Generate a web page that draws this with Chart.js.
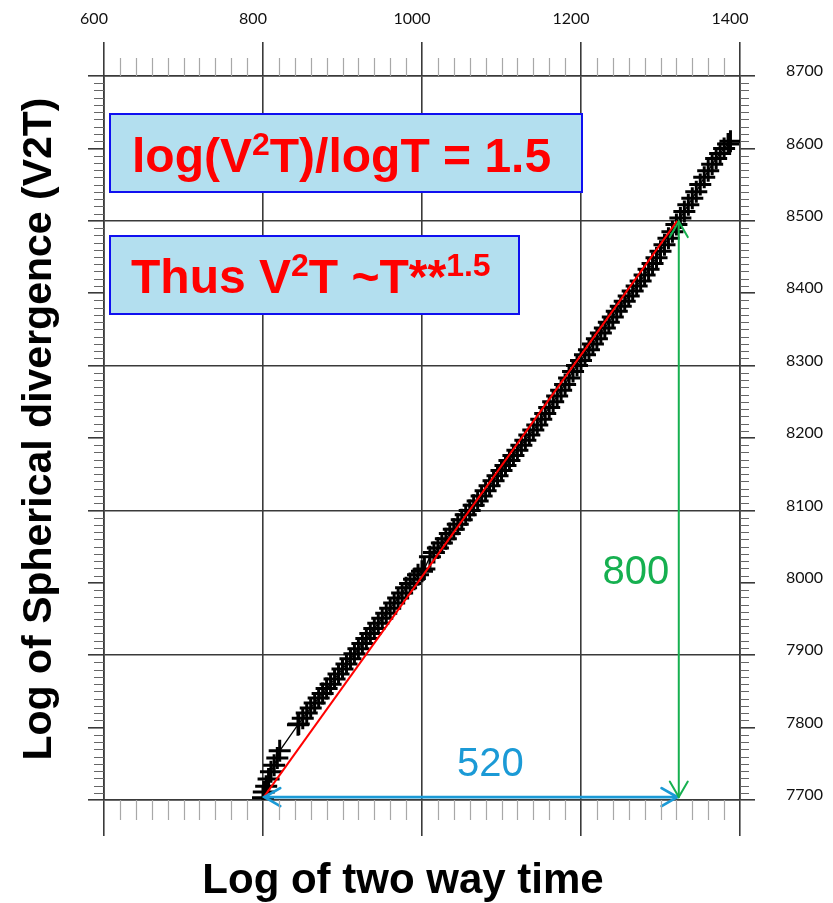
<!DOCTYPE html>
<html>
<head>
<meta charset="utf-8">
<script src="https://cdn.jsdelivr.net/npm/chart.js@4/dist/chart.umd.min.js"></script>
<style>
  html, body { margin: 0; padding: 0; background: #ffffff; }
  canvas { display: block; }
</style>
</head>
<body>
<canvas id="c" width="833" height="903"></canvas>
<script>
// Log of two-way time (x) against log of spherical divergence V2T (y)
const twoWayTime = [
  800, 801, 804, 807, 810, 814, 818, 821, 844,
  845, 850, 855, 860, 865, 870, 875, 880, 885, 890, 895, 900, 905, 910, 915, 920,
  925, 930, 935, 940, 945, 950, 955, 960, 965, 970, 975, 980, 985, 990, 995, 1000, 1003,
  1010, 1015, 1020, 1025, 1030, 1035, 1040, 1045, 1050, 1055, 1060, 1065, 1070, 1075,
  1080, 1085, 1090, 1095, 1100, 1105, 1110, 1115, 1120, 1125, 1130, 1135, 1140, 1145,
  1150, 1155, 1160, 1165, 1170, 1175, 1180, 1185, 1190, 1195, 1200, 1205, 1210, 1215,
  1220, 1225, 1230, 1235, 1240, 1245, 1250, 1255, 1260, 1265, 1270, 1275, 1280, 1285,
  1290, 1295, 1300, 1305, 1310, 1315, 1320, 1325, 1330, 1335, 1340, 1345, 1350, 1355,
  1360, 1365, 1370, 1375, 1380, 1385, 1388
];
const sphericalDiv = [
  7703, 7711, 7719, 7729, 7739, 7748, 7758, 7768, 7804,
  7805, 7813, 7820, 7827, 7834, 7841, 7847, 7854, 7860, 7867, 7874, 7881, 7888, 7895, 7902, 7909,
  7916, 7923, 7930, 7937, 7944, 7951, 7958, 7965, 7972, 7979, 7986, 7993, 7999, 8005, 8011, 8016, 8019,
  8036, 8042, 8048, 8055, 8061, 8068, 8074, 8081, 8087, 8094, 8100, 8107, 8113, 8120,
  8127, 8134, 8141, 8148, 8155, 8162, 8169, 8176, 8183, 8190, 8197, 8204, 8211, 8218,
  8226, 8234, 8242, 8250, 8258, 8266, 8274, 8283, 8292, 8300, 8307, 8315, 8322, 8330,
  8337, 8345, 8352, 8360, 8367, 8375, 8382, 8389, 8396, 8403, 8410, 8417, 8425, 8433,
  8441, 8449, 8458, 8467, 8476, 8485, 8495, 8504, 8513, 8522, 8531, 8540, 8550, 8560,
  8569, 8578, 8586, 8593, 8600, 8606, 8610
];

// straight-line fit (slope 800/520 ~ 1.5)
const fitTime = [801, 1321];
const fitDiv = [7704, 8500];

// run / rise brackets
const runTime = [802, 1321];
const runDiv = 7704;
const riseTime = 1323;
const riseDiv = [7704, 8499];
const runLabel = '520';
const riseLabel = '800';
const runLabelAt = [1086, 7748];
const riseLabelAt = [1269, 8013];

// axis tick values
const timeTicks = [600, 800, 1000, 1200, 1400];
const divTicks = [7700, 7800, 7900, 8000, 8100, 8200, 8300, 8400, 8500, 8600, 8700];

const curvePts = twoWayTime.map((t, i) => ({ x: t, y: sphericalDiv[i] }));
const fitPts = fitTime.map((t, i) => ({ x: t, y: fitDiv[i] }));

const AXIS = '#3a3a3a';
const tickFont = { family: 'Lato, "Liberation Sans", sans-serif', size: 16, weight: '400' };

function fixedHeight(h) { return s => { s.height = h; }; }
function fixedWidth(w) { return s => { s.width = w; }; }

// minor tick marks along all four frame edges
const minorTicks = {
  id: 'minorTicks',
  afterDraw(chart) {
    const { ctx, chartArea: a, scales } = chart;
    ctx.save();
    ctx.lineWidth = 1.2;
    ctx.strokeStyle = '#a8a8a8';
    for (let v = 620; v < 1400; v += 20) {
      if (v % 200 === 0) continue;
      const px = Math.round(scales.x.getPixelForValue(v)) + 0.5;
      ctx.beginPath();
      ctx.moveTo(px, a.top); ctx.lineTo(px, a.top - 18);
      ctx.moveTo(px, a.bottom); ctx.lineTo(px, a.bottom + 20);
      ctx.stroke();
    }
    ctx.strokeStyle = '#666';
    for (let v = 7710; v < 8700; v += 10) {
      if (v % 100 === 0) continue;
      const py = Math.round(scales.y.getPixelForValue(v)) + 0.5;
      ctx.beginPath();
      ctx.moveTo(a.left, py); ctx.lineTo(a.left - 10, py);
      ctx.moveTo(a.right, py); ctx.lineTo(a.right + 9, py);
      ctx.stroke();
    }
    ctx.restore();
  }
};

function arrowHead(ctx, tx, ty, ang) {
  const len = 18, spread = Math.PI / 6;
  ctx.beginPath();
  ctx.moveTo(tx + len * Math.cos(ang - spread), ty + len * Math.sin(ang - spread));
  ctx.lineTo(tx, ty);
  ctx.lineTo(tx + len * Math.cos(ang + spread), ty + len * Math.sin(ang + spread));
  ctx.stroke();
}

function richText(ctx, parts, x, y) {
  let cx = x;
  for (const p of parts) {
    ctx.font = p.sup ? 'bold 32px "Liberation Sans", Arial, sans-serif'
                     : 'bold 48px "Liberation Sans", Arial, sans-serif';
    ctx.fillText(p.t, cx, p.sup ? y - 17 : y);
    cx += ctx.measureText(p.t).width;
  }
}

// brackets, their labels, the two note boxes and the axis titles
const notes = {
  id: 'notes',
  afterDatasetsDraw(chart) {
    const { ctx, scales } = chart;
    const X = v => scales.x.getPixelForValue(v);
    const Y = v => scales.y.getPixelForValue(v);
    ctx.save();
    ctx.lineCap = 'round';

    // horizontal run bracket
    ctx.strokeStyle = '#1b9ad6';
    ctx.lineWidth = 2.8;
    const ry = Y(runDiv), rx0 = X(runTime[0]), rx1 = X(runTime[1]);
    ctx.beginPath(); ctx.moveTo(rx0, ry); ctx.lineTo(rx1, ry); ctx.stroke();
    arrowHead(ctx, rx0, ry, 0);
    arrowHead(ctx, rx1, ry, Math.PI);

    // vertical rise bracket
    ctx.strokeStyle = '#16b050';
    ctx.lineWidth = 2;
    const vx = X(riseTime), vy0 = Y(riseDiv[0]), vy1 = Y(riseDiv[1]);
    ctx.beginPath(); ctx.moveTo(vx, vy0); ctx.lineTo(vx, vy1); ctx.stroke();
    arrowHead(ctx, vx, vy0, -Math.PI / 2);
    arrowHead(ctx, vx, vy1, Math.PI / 2);

    ctx.textAlign = 'center';
    ctx.textBaseline = 'middle';
    ctx.font = '40px "Liberation Sans", Arial, sans-serif';
    ctx.fillStyle = '#1b9ad6';
    ctx.fillText(runLabel, X(runLabelAt[0]), Y(runLabelAt[1]));
    ctx.fillStyle = '#16b050';
    ctx.fillText(riseLabel, X(riseLabelAt[0]), Y(riseLabelAt[1]));

    // note boxes
    const boxes = [
      { x: 110, y: 114, w: 472, h: 78, tx: 132, ty: 172,
        parts: [{ t: 'log(V' }, { t: '2', sup: true }, { t: 'T)/logT = 1.5' }] },
      { x: 110, y: 236, w: 409, h: 78, tx: 131, ty: 293,
        parts: [{ t: 'Thus V' }, { t: '2', sup: true }, { t: 'T ~T**' }, { t: '1.5', sup: true }] }
    ];
    ctx.textAlign = 'left';
    ctx.textBaseline = 'alphabetic';
    for (const b of boxes) {
      ctx.fillStyle = '#b3dfef';
      ctx.fillRect(b.x, b.y, b.w, b.h);
      ctx.strokeStyle = '#1010f0';
      ctx.lineWidth = 2;
      ctx.strokeRect(b.x, b.y, b.w, b.h);
      ctx.fillStyle = '#ff0000';
      richText(ctx, b.parts, b.tx, b.ty);
    }

    // axis titles
    ctx.fillStyle = '#000';
    ctx.font = 'bold 42px "Liberation Sans", Arial, sans-serif';
    ctx.textAlign = 'center';
    ctx.fillText('Log of two way time', 403, 893);
    ctx.font = 'bold 41px "Liberation Sans", Arial, sans-serif';
    ctx.translate(51, 429);
    ctx.rotate(-Math.PI / 2);
    ctx.fillText('Log of Spherical divergence (V2T)', 0, 0);
    ctx.restore();
  }
};

new Chart(document.getElementById('c'), {
  type: 'line',
  data: {
    datasets: [
      {
        label: 'V2T',
        data: curvePts,
        order: 2,
        xAxisID: 'x', yAxisID: 'y',
        borderColor: '#000', borderWidth: 1.3,
        pointStyle: 'cross', pointRadius: 11, pointBorderWidth: 3,
        pointBorderColor: '#000', pointBackgroundColor: '#000',
        tension: 0, fill: false
      },
      {
        label: 'fit',
        data: fitPts,
        order: 1,
        xAxisID: 'x', yAxisID: 'y',
        borderColor: '#ff0000', borderWidth: 2,
        pointRadius: 0, tension: 0, fill: false
      }
    ]
  },
  options: {
    responsive: false,
    animation: false,
    events: [],
    layout: { padding: 0 },
    plugins: { legend: { display: false }, tooltip: { enabled: false } },
    scales: {
      x: {
        type: 'linear', position: 'top', min: 600, max: 1400,
        afterBuildTicks: s => { s.ticks = timeTicks.map(v => ({ value: v })); },
        afterFit: fixedHeight(76),
        ticks: { callback: v => String(v), font: tickFont, color: '#111',
                 padding: 14, labelOffset: -10, maxRotation: 0, autoSkip: false },
        grid: { color: AXIS, tickColor: AXIS, lineWidth: 1.6, tickLength: 34 },
        border: { display: true, color: AXIS, width: 1.6 }
      },
      x2: {
        type: 'linear', position: 'bottom', min: 600, max: 1400,
        afterBuildTicks: s => { s.ticks = timeTicks.map(v => ({ value: v })); },
        afterFit: fixedHeight(103),
        ticks: { display: false },
        grid: { drawOnChartArea: false, tickColor: AXIS, lineWidth: 1.6, tickLength: 36 },
        border: { display: true, color: AXIS, width: 1.6 }
      },
      y: {
        type: 'linear', position: 'left', min: 7700, max: 8700,
        afterBuildTicks: s => { s.ticks = divTicks.map(v => ({ value: v })); },
        afterFit: fixedWidth(104),
        ticks: { display: false },
        grid: {
          color: c => (c.tick && c.tick.value % 200 === 100) ? AXIS : 'rgba(0,0,0,0)',
          tickColor: AXIS, lineWidth: 1.6, tickLength: 16
        },
        border: { display: true, color: AXIS, width: 1.6 }
      },
      y2: {
        type: 'linear', position: 'right', min: 7700, max: 8700,
        afterBuildTicks: s => { s.ticks = divTicks.map(v => ({ value: v })); },
        afterFit: fixedWidth(93),
        ticks: { callback: v => String(v), font: tickFont, color: '#111',
                 padding: 31, labelOffset: -5, autoSkip: false },
        grid: { drawOnChartArea: false, tickColor: AXIS, lineWidth: 1.6, tickLength: 15 },
        border: { display: true, color: AXIS, width: 1.6 }
      }
    }
  },
  plugins: [minorTicks, notes]
});
</script>
</body>
</html>
